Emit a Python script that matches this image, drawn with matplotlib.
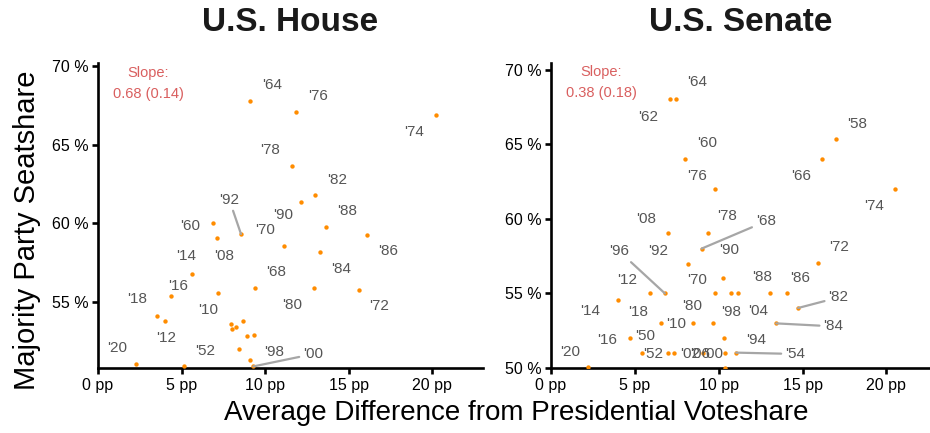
import numpy as np
import matplotlib.pyplot as plt

plt.rcParams['font.family'] = ['Liberation Sans', 'DejaVu Sans']

# U.S. House: election year, avg. difference from presidential voteshare (pp), majority seatshare (%)
house_year = ["'64", "'76", "'74", "'78", "'82", "'90", "'88", "'86", "'70", "'84",
              "'68", "'80", "'72", "'60", "'08", "'92", "'14", "'16", "'10", "'18",
              "'12", "'52", "'20", "'98", "'00", "", "", "", "", "", "", ""]
house_x = [9.12, 11.87, 20.22, 11.59, 12.99, 12.13, 13.65, 16.11, 11.15, 13.32,
           9.40, 12.92, 15.60, 6.89, 7.13, 8.56, 5.61, 4.35, 7.19, 3.55,
           3.99, 8.44, 2.28, 9.10, 9.30, 7.98, 8.26, 8.02, 8.66, 8.90, 9.36, 5.15]
house_y = [67.75, 67.08, 66.86, 63.67, 61.78, 61.38, 59.79, 59.28, 58.58, 58.20,
           55.89, 55.89, 55.78, 60.00, 59.09, 59.32, 56.80, 55.40, 55.59, 54.08,
           53.79, 52.01, 51.03, 51.29, 50.90, 53.60, 53.41, 53.28, 53.81, 52.81, 52.90, 50.90]
# where the year labels sit
house_lx = [10.40, 13.17, 18.92, 10.30, 14.29, 11.10, 14.93, 17.38, 10.00, 14.55,
            10.66, 11.63, 16.84, 5.51, 7.54, 7.86, 5.27, 4.77, 6.60, 2.32,
            4.07, 6.41, 1.16, 10.54, 12.89]
house_ly = [68.81, 68.11, 65.78, 64.68, 62.78, 60.51, 60.80, 58.22, 59.60, 57.12,
            56.93, 54.78, 54.72, 59.81, 57.90, 61.50, 57.94, 56.04, 54.47, 55.19,
            52.71, 51.90, 52.08, 51.80, 51.69]
house_leader = ["'92", "'00"]
house_slope = "Slope:\n0.68 (0.14)"

# U.S. Senate
senate_year = ["'62", "'64", "'60", "'76", "'58", "'66", "'74", "'08", "'78", "'68",
               "'92", "'90", "'96", "'72", "'12", "'70", "'88", "'86", "'98", "'04",
               "'82", "'14", "'18", "'80", "'10", "'84", "'16", "'94", "'50", "'52",
               "'02", "'06", "'00", "'54", "'20", ""]
senate_x = [7.10, 7.46, 7.98, 9.79, 17.00, 16.18, 20.54, 6.97, 9.37, 8.98,
            8.16, 10.27, 6.79, 15.92, 5.91, 9.79, 13.06, 14.05, 10.75, 11.15,
            14.73, 4.00, 6.57, 9.67, 8.46, 13.43, 4.72, 10.33, 5.43, 6.97,
            7.34, 9.09, 10.39, 11.04, 2.23, 10.39]
senate_y = [68.03, 68.03, 64.03, 62.02, 65.32, 64.03, 62.02, 59.02, 59.02, 58.00,
            56.99, 56.00, 55.00, 57.01, 55.00, 55.00, 55.00, 55.00, 55.00, 55.00,
            54.02, 54.56, 52.99, 52.99, 52.99, 52.99, 51.98, 51.98, 51.03, 51.03,
            51.00, 51.03, 50.98, 51.03, 50.04, 50.00]
senate_lx = [5.81, 8.70, 9.30, 8.70, 18.25, 14.91, 19.24, 5.67, 10.49, 12.82,
             6.41, 10.64, 4.08, 17.15, 4.56, 8.70, 12.58, 14.87, 10.73, 12.34,
             17.15, 2.33, 5.18, 8.42, 7.44, 16.85, 3.33, 12.24, 5.63, 6.11,
             8.30, 8.90, 9.69, 14.57, 1.13]
senate_ly = [66.82, 69.14, 65.08, 62.89, 66.37, 62.84, 60.83, 60.01, 60.16, 59.83,
             57.81, 57.88, 57.81, 58.08, 55.92, 55.92, 56.10, 56.03, 53.75, 53.84,
             54.73, 53.84, 53.75, 54.16, 52.95, 52.79, 51.88, 51.90, 52.16, 50.94,
             50.94, 50.94, 50.94, 50.94, 51.07]
senate_leader = ["'68", "'96", "'82", "'84", "'54"]
senate_slope = "Slope:\n0.38 (0.18)"

fig = plt.figure(figsize=(9.3, 4.33), dpi=100)
ax1 = fig.add_axes([98 / 930, 1 - 368 / 433, 385 / 930, 305 / 433])
ax2 = fig.add_axes([551 / 930, 1 - 368 / 433, 379 / 930, 305 / 433])


def draw_panel(ax, title, xs, ys, years, lxs, lys, leaders, slope, ylim, xlim):
    ax.scatter(xs, ys, s=10, color='#FF8C00', zorder=3, linewidths=0)
    for i in range(len(lxs)):
        yr = years[i]
        if yr in leaders:
            ax.annotate(yr, xy=(xs[i], ys[i]), xytext=(lxs[i], lys[i]),
                        ha='center', va='center', fontsize=11, color='#555555',
                        arrowprops=dict(arrowstyle='-', color='#a6a6a6', lw=1.6,
                                        shrinkA=1, shrinkB=0))
        else:
            ax.text(lxs[i], lys[i], yr, ha='center', va='center',
                    fontsize=11, color='#555555')
    ax.set_xticks([0, 5, 10, 15, 20])
    ax.set_xticklabels(['0 pp', '5 pp', '10 pp', '15 pp', '20 pp'])
    ax.set_yticks([50, 55, 60, 65, 70])
    ax.set_yticklabels(['50 %', '55 %', '60 %', '65 %', '70 %'])
    ax.set_xlim(*xlim)
    ax.set_ylim(*ylim)
    ax.text(3.0, ylim[1] - 1.3, slope, ha='center', va='center', fontsize=10.5,
            color='#d95f5f', linespacing=1.6)
    for s in ['top', 'right']:
        ax.spines[s].set_visible(False)
    for s in ['left', 'bottom']:
        ax.spines[s].set_linewidth(1.9)
    ax.tick_params(direction='out', length=4, width=1.9, labelsize=11.5,
                   colors='black', pad=3)
    ax.set_title(title, fontsize=24, fontweight='bold', color='#1a1a1a', pad=23)


draw_panel(ax1, 'U.S. House', house_x, house_y, house_year, house_lx, house_ly,
           house_leader, house_slope, (50.8, 70.19), (0, 23.05))
draw_panel(ax2, 'U.S. Senate', senate_x, senate_y, senate_year, senate_lx, senate_ly,
           senate_leader, senate_slope, (50, 70.44), (0, 22.6))

fig.text(516 / 930, 1 - 413 / 433, 'Average Difference from Presidential Voteshare',
         ha='center', va='center', fontsize=20)
fig.text(27 / 930, 1 - 230 / 433, 'Majority Party Seatshare', ha='center', va='center',
         rotation=90, fontsize=21)

fig.savefig('out.png', dpi=100)
